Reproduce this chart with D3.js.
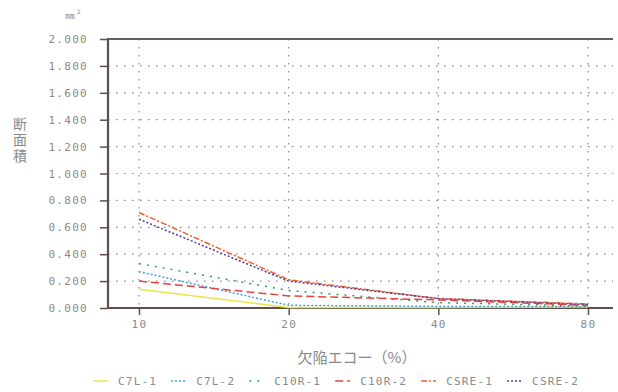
<!DOCTYPE html>
<meta charset="utf-8">
<script src="https://d3js.org/d3.v7.min.js"></script>
<style>
  body { margin: 0; background: #fff; }
  text { font-family: "DejaVu Sans Mono", monospace; }
</style>
<div id="chart"></div>
<script>
// defect echo (%) on a doubling scale
var xValues = [10, 20, 40, 80];
var yTicks = [0, 0.2, 0.4, 0.6, 0.8, 1.0, 1.2, 1.4, 1.6, 1.8, 2.0];

var seriesNames = ["C7L-1", "C7L-2", "C10R-1", "C10R-2", "CSRE-1", "CSRE-2"];
var c7l1  = [0.14, 0.004, 0.004, 0.008];
var c7l2  = [0.27, 0.02, 0.012, 0.01];
var c10r1 = [0.33, 0.13, 0.04, 0.015];
var c10r2 = [0.20, 0.09, 0.06, 0.02];
var csre1 = [0.71, 0.21, 0.07, 0.03];
var csre2 = [0.66, 0.20, 0.07, 0.025];
var seriesValues = [c7l1, c7l2, c10r1, c10r2, csre1, csre2];

var colors = ["#efe24a", "#3f9fe0", "#2f9a6a", "#e8413f", "#f0602e", "#56389a"];
var dashes = [null, "2,2", "2,6", "8,4", "6,2,2,2", "2,2"];

var W = 618, H = 392;
var plotL = 108, plotR = 613, plotT = 39, plotB = 308;

var svg = d3.select("#chart").append("svg")
    .attr("width", W)
    .attr("height", H);

var x = d3.scaleLog().base(2)
    .domain([10, 80])
    .range([139, 588]);

var y = d3.scaleLinear()
    .domain([0, 2])
    .range([plotB, plotT]);

// grid
svg.append("g").selectAll("line")
  .data(yTicks.filter(function(d) { return d > 0 && d < 2; }))
  .join("line")
    .attr("x1", plotL).attr("x2", plotR)
    .attr("y1", function(d) { return y(d); })
    .attr("y2", function(d) { return y(d); })
    .attr("stroke", "#8d8585")
    .attr("stroke-width", 1.2)
    .attr("stroke-dasharray", "1.5,6.5");

svg.append("g").selectAll("line")
  .data(xValues)
  .join("line")
    .attr("x1", function(d) { return x(d); })
    .attr("x2", function(d) { return x(d); })
    .attr("y1", plotT).attr("y2", plotB)
    .attr("stroke", "#8d8585")
    .attr("stroke-width", 1.2)
    .attr("stroke-dasharray", "1.5,6.5");

// axes
var yAxis = svg.append("g")
    .attr("transform", "translate(" + plotL + ",0)")
    .call(d3.axisLeft(y).tickValues(yTicks).tickSize(8).tickSizeOuter(0)
      .tickFormat(d3.format(".3f")));
yAxis.select(".domain").remove();
yAxis.selectAll(".tick line").attr("stroke", "#5e4f4c").attr("stroke-width", 1.5);
yAxis.selectAll(".tick text")
    .attr("x", -20)
    .attr("fill", "#8a8a8a")
    .style("font-size", "11px")
    .style("letter-spacing", "1.3px");

var xAxis = svg.append("g")
    .attr("transform", "translate(0," + plotB + ")")
    .call(d3.axisBottom(x).tickValues(xValues).tickSize(7).tickSizeOuter(0)
      .tickFormat(d3.format("d")));
xAxis.select(".domain").remove();
xAxis.selectAll(".tick line").attr("stroke", "#5e4f4c").attr("stroke-width", 1.5);
xAxis.selectAll(".tick text")
    .attr("y", 12)
    .attr("fill", "#8a8a8a")
    .style("font-size", "11px")
    .style("letter-spacing", "1.3px");

// frame: left, bottom, top
svg.append("line")
    .attr("x1", plotL).attr("x2", plotL).attr("y1", plotT - 1).attr("y2", plotB + 1)
    .attr("stroke", "#5e4f4c").attr("stroke-width", 2.2);
svg.append("line")
    .attr("x1", plotL).attr("x2", plotR).attr("y1", plotB).attr("y2", plotB)
    .attr("stroke", "#5e4f4c").attr("stroke-width", 2.2);
svg.append("line")
    .attr("x1", plotL).attr("x2", plotR).attr("y1", plotT).attr("y2", plotT)
    .attr("stroke", "#6e5a55").attr("stroke-width", 2.2);

// lines
var line = d3.line()
    .x(function(d, i) { return x(xValues[i]); })
    .y(function(d) { return y(d); });

svg.append("g").selectAll("path")
  .data(seriesValues)
  .join("path")
    .attr("fill", "none")
    .attr("stroke", function(d, i) { return colors[i]; })
    .attr("stroke-width", 1.5)
    .attr("stroke-dasharray", function(d, i) { return dashes[i]; })
    .attr("d", line);

// labels
svg.append("text")
    .attr("x", 70).attr("y", 19)
    .attr("text-anchor", "middle")
    .attr("fill", "#8a8a8a")
    .style("font-size", "8px")
    .text("mm");
svg.append("text")
    .attr("x", 77).attr("y", 14)
    .attr("fill", "#8a8a8a")
    .style("font-size", "6px")
    .text("2");

svg.append("text")
    .attr("x", 20).attr("y", 117)
    .attr("fill", "#8a8a8a")
    .style("font-family", "'Noto Sans CJK JP'")
    .style("font-size", "14px")
    .style("writing-mode", "vertical-rl")
    .style("letter-spacing", "2px")
    .text("断面積");

svg.append("text")
    .attr("x", 357).attr("y", 363)
    .attr("text-anchor", "middle")
    .attr("fill", "#8a8a8a")
    .style("font-family", "'Noto Sans CJK JP'")
    .style("font-size", "15px")
    .text("欠陥エコー（%）");

// legend
var legend = svg.append("g").attr("transform", "translate(0,381)");
var lx = 93;
seriesNames.forEach(function(name, i) {
  legend.append("line")
      .attr("x1", lx).attr("x2", lx + 15)
      .attr("stroke", colors[i])
      .attr("stroke-width", 1.5)
      .attr("stroke-dasharray", dashes[i]);
  var t = legend.append("text")
      .attr("x", lx + 25).attr("y", 4)
      .attr("fill", "#8a8a8a")
      .style("font-size", "11px")
      .style("letter-spacing", "1.2px")
      .text(name);
  lx += 25 + t.node().getComputedTextLength() + 14;
});
</script>
